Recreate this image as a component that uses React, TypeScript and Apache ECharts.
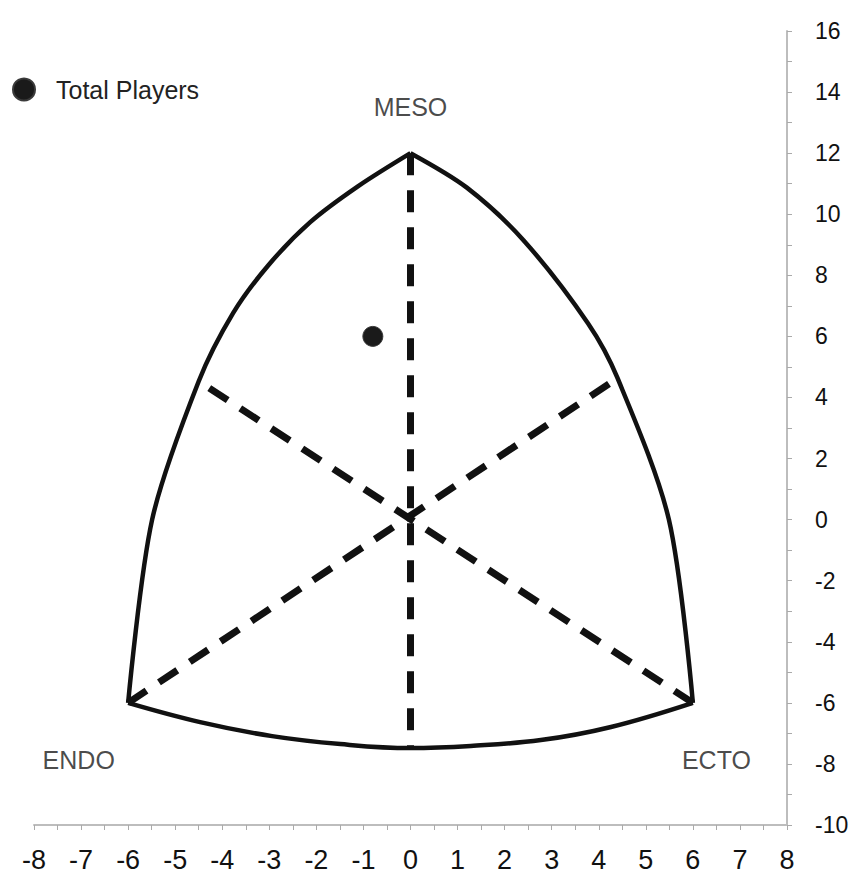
import React, { useEffect, useRef } from "react";
import * as echarts from "echarts";

// Somatochart outline (x, y in chart units)
const leftArc: number[][] = [
  [-6, -6], [-5.49, 0], [-4.5, 4.53], [-3.77, 6.76],
  [-3.02, 8.33], [-2.13, 9.74], [-1.11, 10.92], [0, 12],
];
const rightArc: number[][] = [
  [0, 12], [1.19, 10.88], [2.4, 9.15], [3.77, 6.43], [4.4, 4.63],
  [5.49, 0], [6, -6],
];
const bottomArc: number[][] = [
  [6, -6], [4.26, -6.79], [2.77, -7.22], [1.28, -7.41], [0, -7.48],
  [-1.49, -7.35], [-2.94, -7.09], [-4.47, -6.63], [-6, -6],
];
// Dashed guide lines
const mesoLine: number[][] = [[0, 12], [0, -7.45]];
const endoLine: number[][] = [[-6, -6], [4.4, 4.63]];
const ectoLine: number[][] = [[6, -6], [-4.5, 4.53]];

// Data point
const totalPlayers: number[][] = [[-0.8, 6]];

// Vertex labels
const vertexLabels = [
  { name: "MESO", value: [0, 13.5] },
  { name: "ENDO", value: [-7.05, -7.87] },
  { name: "ECTO", value: [6.5, -7.87] },
];

const xMin = -8, xMax = 8, xStep = 1;
const yMin = -10, yMax = 16, yStep = 2;

const FONT = "'Liberation Sans', Arial, sans-serif";

export default function App() {
  const ref = useRef<HTMLDivElement>(null);
  useEffect(() => {
    if (!ref.current) return;
    const chart = echarts.init(ref.current, undefined, { renderer: "svg" });
    const outlineStyle = { color: "#111", width: 4.5 };
    const dashStyle = { color: "#111", width: 7, type: [22, 15] as number[] };
    chart.setOption({
      animation: false,
      backgroundColor: "#fff",
      textStyle: { fontFamily: FONT },
      grid: { left: 34, right: 66, top: 31, bottom: 51, containLabel: false },
      legend: {
        left: 7,
        top: 72,
        itemWidth: 22,
        itemHeight: 22,
        icon: "circle",
        data: ["Total Players"],
        textStyle: { fontSize: 25, color: "#222", fontFamily: FONT, padding: [0, 0, 0, 16] },
      },
      xAxis: {
        type: "value",
        min: xMin,
        max: xMax,
        interval: xStep,
        axisLine: { onZero: false, lineStyle: { color: "#bdbdbd", width: 2 } },
        axisTick: { show: true, length: 5, lineStyle: { color: "#aaa" } },
        minorTick: { show: true, splitNumber: 2, length: 5, lineStyle: { color: "#aaa" } },
        splitLine: { show: false },
        axisLabel: { fontSize: 27, color: "#111", margin: 21, fontFamily: FONT },
      },
      yAxis: {
        type: "value",
        position: "right",
        min: yMin,
        max: yMax,
        interval: yStep,
        axisLine: { show: true, onZero: false, lineStyle: { color: "#bdbdbd", width: 2 } },
        axisTick: { show: true, length: 5, lineStyle: { color: "#aaa" } },
        minorTick: { show: true, splitNumber: 2, length: 5, lineStyle: { color: "#aaa" } },
        splitLine: { show: false },
        axisLabel: { fontSize: 23, color: "#111", margin: 28, fontFamily: FONT },
      },
      series: [
        { type: "line", data: leftArc, smooth: 0.3, symbol: "none", lineStyle: outlineStyle, silent: true },
        { type: "line", data: rightArc, smooth: 0.3, symbol: "none", lineStyle: outlineStyle, silent: true },
        { type: "line", data: bottomArc, smooth: 0.4, symbol: "none", lineStyle: outlineStyle, silent: true },
        { type: "line", data: mesoLine, symbol: "none", lineStyle: dashStyle, silent: true },
        { type: "line", data: endoLine, symbol: "none", lineStyle: dashStyle, silent: true },
        { type: "line", data: ectoLine, symbol: "none", lineStyle: dashStyle, silent: true },
        {
          type: "scatter",
          data: vertexLabels,
          symbolSize: 0,
          silent: true,
          label: {
            show: true,
            position: "inside",
            formatter: (p: any) => p.name,
            fontSize: 25,
            color: "#1a1a1a",
            fontFamily: FONT,
          },
        },
        {
          name: "Total Players",
          type: "scatter",
          data: totalPlayers,
          symbol: "circle",
          symbolSize: 20,
          itemStyle: { color: "#1a1a1a", borderColor: "#3a3a3a", borderWidth: 1, opacity: 1 },
          z: 5,
        },
      ],
    });
    return () => chart.dispose();
  }, []);
  return (
    <div
      ref={ref}
      style={{ position: "fixed", left: 0, top: 0, width: 853, height: 876 }}
    />
  );
}
